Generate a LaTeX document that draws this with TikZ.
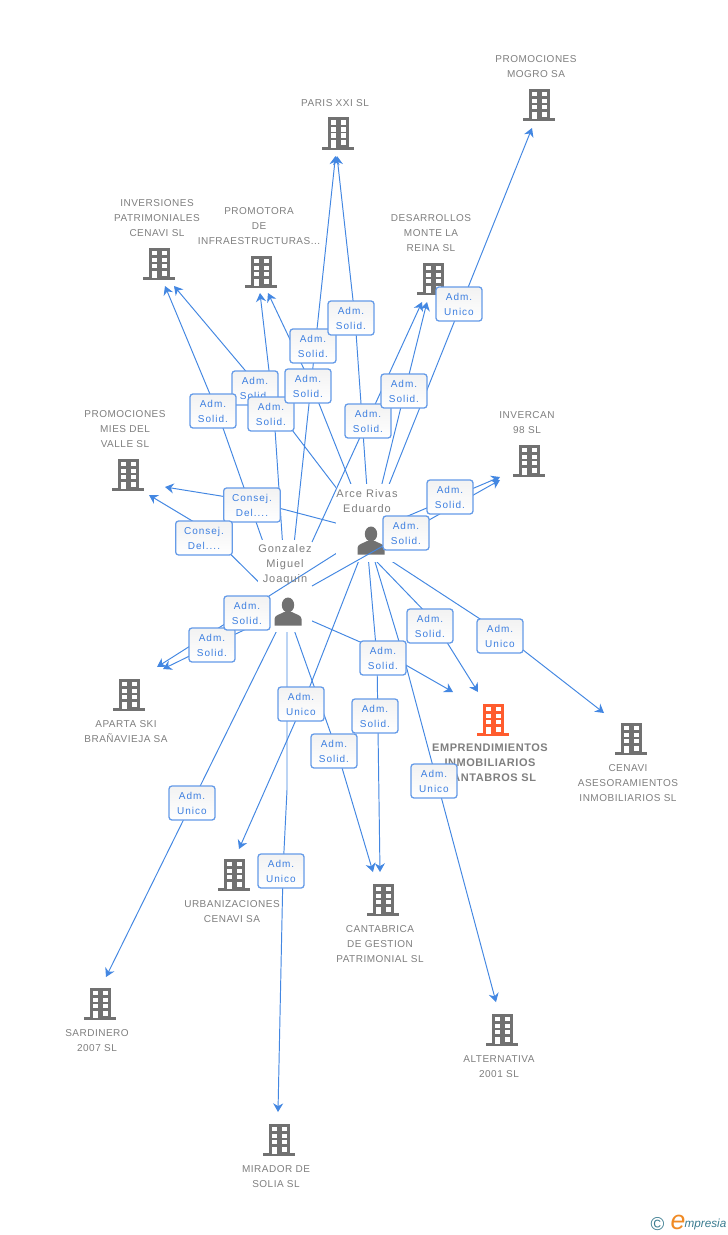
\documentclass[tikz,border=0pt]{standalone}
\usepackage{fontspec}
\usetikzlibrary{arrows.meta,calc,shapes.misc}
\setmainfont{Liberation Sans}
\newfontfamily\boxfont[LetterSpace=10]{Liberation Sans}
\newfontfamily\comfont[LetterSpace=5]{Liberation Sans}
\newfontfamily\perfont[LetterSpace=9]{Liberation Sans}
\newfontfamily\mainfont[LetterSpace=5,BoldFont={Liberation Sans Bold}]{Liberation Sans}
\definecolor{linkc}{HTML}{4387E2}
\definecolor{boxline}{HTML}{659BE8}
\definecolor{boxtext}{HTML}{3D7FE0}
\definecolor{txtc}{HTML}{7F7F7F}
\definecolor{bldc}{HTML}{717171}
\definecolor{hotc}{HTML}{FF5C2E}
\definecolor{tealc}{HTML}{3B7C90}
\definecolor{orc}{HTML}{F08A24}
\tikzset{
  conn/.style={draw=linkc,line width=0.72pt,-{Stealth[length=6.5pt,width=7.5pt]}},
  role/.style={draw=boxline,line width=0.95pt,rounded corners=2.2pt,top color=black!5,bottom color=white,
    minimum width=34.5pt,minimum height=25.5pt,inner sep=0pt,align=center,text=boxtext,
    font=\boxfont\fontsize{7.5}{11.25}\selectfont},
  wrole/.style={role,minimum width=42.5pt},
  comp/.style={inner sep=0pt,align=center,text=txtc,font=\comfont\fontsize{7.5}{11.25}\selectfont},
  hot/.style={inner sep=0pt,align=center,text=txtc,font=\mainfont\bfseries\fontsize{8.25}{11.25}\selectfont},
  pers/.style={inner sep=0pt,align=center,text=txtc,font=\perfont\fontsize{8.25}{11.25}\selectfont},
  cover/.style={fill=white,inner sep=0pt},
  pics/bld/.style={code={
    \fill[#1] (-16,14) rectangle (16,17);
    \fill[#1] (-10.5,-15.5) rectangle (10.5,15);
    \foreach \wx in {-7.5,2.5}{\foreach \wy in {-12.5,-5.5,0.5}{\fill[white] (\wx,\wy) rectangle ++(5,4.5);}}
    \fill[white] (-7.5,7.5) rectangle (-2.5,15);
    \fill[white] (2.5,7.5) rectangle (7.5,12.5);
  }},
  pics/man/.style={code={
    \fill[bldc] (0,-7) ellipse (6.2 and 7.5);
    \fill[bldc] (-13.5,13.5) -- (-13.5,7) .. controls (-13.5,3) and (-8,2.5) .. (-4,0) -- (4,0) .. controls (8,2.5) and (13.5,3) .. (13.5,7) -- (13.5,13.5) -- cycle;
  }}
}
\begin{document}
\begin{tikzpicture}[x=0.75pt,y=-0.75pt]
\useasboundingbox (0,0) rectangle (728,1235);
\fill[white] (0,0) rectangle (728,1235);
% hubs and free ends
\coordinate (arceh) at (370,532);
\coordinate (arcem) at (366,532);
\coordinate (arceo) at (350,534);
\coordinate (gonzh) at (287,610);
\coordinate (gonzb) at (312,586);
\coordinate (gonzd) at (312,542);
\coordinate (mirb) at (287,790);
% arrow ends
\coordinate (tparisa) at (335.5,156);
\coordinate (tparisb) at (337,156);
\coordinate (tmogro) at (532,128);
\coordinate (tinva) at (165,286);
\coordinate (tinvb) at (174,286);
\coordinate (tproa) at (260,293);
\coordinate (tprob) at (268,293);
\coordinate (tdesa) at (422,302);
\coordinate (tdesb) at (427,302);
\coordinate (tinca) at (500,477);
\coordinate (tincb) at (500,480);
\coordinate (tmiesa) at (165,487);
\coordinate (tmiesb) at (149,495);
\coordinate (tapaa) at (157,667);
\coordinate (tapab) at (163,669);
\coordinate (temp1) at (453,692);
\coordinate (temp2) at (478,692);
\coordinate (tcen) at (604,713);
\coordinate (turb) at (239,849);
\coordinate (tcana) at (373,872);
\coordinate (tcanb) at (380,872);
\coordinate (tsar) at (106,977);
\coordinate (talt) at (496,1002);
\coordinate (tmir) at (278,1112);
% box centres
\coordinate (A) at (313,346);
\coordinate (B) at (351,318);
\coordinate (C) at (255,388);
\coordinate (D) at (213,411);
\coordinate (E) at (271,414);
\coordinate (F) at (308,386);
\coordinate (G) at (368,421);
\coordinate (H) at (404,391);
\coordinate (I) at (459,304);
\coordinate (K1) at (252,505);
\coordinate (K2) at (204,538);
\coordinate (J) at (406,533);
\coordinate (K) at (450,497);
\coordinate (L) at (247,613);
\coordinate (M) at (212,645);
\coordinate (N) at (383,658);
\coordinate (O) at (430,626);
\coordinate (P) at (500,636);
\coordinate (Q) at (301,704);
\coordinate (R) at (375,716);
\coordinate (S) at (334,751);
\coordinate (T) at (434,781);
\coordinate (U) at (192,803);
\coordinate (V) at (281,871);
% connectors of Gonzalez
\draw[conn] (gonzh) -- (tparisa);
\draw[conn] (gonzh) -- ($(D)+(4,0)$) -- (tinva);
\draw[conn] (gonzh) -- ($(E)+(3,0)$) -- (tproa);
\draw[conn] (gonzh) -- ($(K2)+(0,-10)$) -- (tmiesb);
\draw[conn] (gonzh) -- (M) -- (tapab);
\draw[conn] (gonzh) -- ($(N)+(0,-6)$) -- (temp1);
\draw[conn] (gonzh) -- (tsar);
\draw[conn] (gonzh) -- (mirb) -- ($(V)+(2,0)$) -- (tmir);
\draw[conn] (gonzh) -- ($(S)+(3,0)$) -- (tcana);
% Gonzalez label area
\node[cover,minimum width=40.5pt,minimum height=69pt] (gonzbox) at (285,586) {};
% connectors of Arce
\draw[conn] (arceh) -- ($(B)+(4,0)$) -- (tparisb);
\draw[conn] (arceh) -- ($(C)+(5,0)$) -- (tinvb);
\draw[conn] (arceh) -- ($(F)+(4,0)$) -- (tprob);
\draw[conn] (arceh) -- (tdesb);
\draw[conn] (arceh) -- (tmogro);
\draw[conn] (arceh) -- (tinca);
\draw[conn] (arceh) -- ($(K1)+(0,-4)$) -- (tmiesa);
\draw[conn] (arceh) -- (tapaa);
\draw[conn] (arceh) -- ($(Q)+(2,0)$) -- (turb);
\draw[conn] (arcem) -- ($(N)+(-6,0)$) -- (tcanb);
\draw[conn] (arcem) -- ($(N)+(21,0)$) -- (talt);
\draw[conn] (arceo) -- ($(O)+(3,-6)$) -- (temp2);
\draw[conn] (arceo) -- ($(P)+(0,-4)$) -- (tcen);
% Arce label area
\node[cover,minimum width=51pt,minimum height=58.5pt] (arcebox) at (370,523) {};
\node[pers] (arcelab) at (367,501) {Arce Rivas\\Eduardo};
\node[pers] (gonzlab) at (285,565) {Gonzalez\\Miguel\\Joaquin};
\pic at (371,541) {man};
\pic at (288,612) {man};
\draw[conn] (gonzb) -- (tincb);
\draw[conn] (gonzd) -- (tdesa);
% buildings
\pic at (338,132.5) {bld=bldc};
\pic at (539,104) {bld=bldc};
\pic at (159,263) {bld=bldc};
\pic at (261,271) {bld=bldc};
\pic at (433,278) {bld=bldc};
\pic at (529,460) {bld=bldc};
\pic at (128,474) {bld=bldc};
\pic at (129,694) {bld=bldc};
\pic at (493,719) {bld=hotc};
\pic at (631,738) {bld=bldc};
\pic at (234,874) {bld=bldc};
\pic at (383,899) {bld=bldc};
\pic at (100,1003) {bld=bldc};
\pic at (502,1029) {bld=bldc};
\pic at (279,1139) {bld=bldc};
% labels
\node[comp] (lmogro) at (536,66.5) {PROMOCIONES\\MOGRO SA};
\node[comp] (lparis) at (335,103) {PARIS XXI SL};
\node[comp] (linv) at (157,218) {INVERSIONES\\PATRIMONIALES\\CENAVI SL};
\node[comp] (lpro) at (259,226) {PROMOTORA\\DE\\INFRAESTRUCTURAS...};
\node[comp] (ldes) at (431,233) {DESARROLLOS\\MONTE LA\\REINA SL};
\node[comp] (linc) at (527,422.5) {INVERCAN\\98 SL};
\node[comp] (lmies) at (125,429) {PROMOCIONES\\MIES DEL\\VALLE SL};
\node[comp] (lapa) at (126,731.5) {APARTA SKI\\BRAÑAVIEJA SA};
\node[hot] (lemp) at (490,763) {EMPRENDIMIENTOS\\INMOBILIARIOS\\CANTABROS SL};
\node[comp] (lcen) at (628,783) {CENAVI\\ASESORAMIENTOS\\INMOBILIARIOS SL};
\node[comp] (lurb) at (232,911.5) {URBANIZACIONES\\CENAVI SA};
\node[comp] (lcan) at (380,944) {CANTABRICA\\DE GESTION\\PATRIMONIAL SL};
\node[comp] (lsar) at (97,1040.5) {SARDINERO\\2007 SL};
\node[comp] (lalt) at (499,1066.5) {ALTERNATIVA\\2001 SL};
\node[comp] (lmir) at (276,1176.5) {MIRADOR DE\\SOLIA SL};
% role boxes
\node[role] (bA) at (A) {Adm.\\Solid.};
\node[role] (bB) at (B) {Adm.\\Solid.};
\node[role] (bC) at (C) {Adm.\\Solid.};
\node[role] (bD) at (D) {Adm.\\Solid.};
\node[role] (bE) at (E) {Adm.\\Solid.};
\node[role] (bF) at (F) {Adm.\\Solid.};
\node[role] (bG) at (G) {Adm.\\Solid.};
\node[role] (bH) at (H) {Adm.\\Solid.};
\node[role] (bI) at (I) {Adm.\\Unico};
\node[wrole] (bK1) at (K1) {Consej.\\Del....};
\node[wrole] (bK2) at (K2) {Consej.\\Del....};
\node[role] (bK) at (K) {Adm.\\Solid.};
\node[role] (bJ) at (J) {Adm.\\Solid.};
\node[role] (bM) at (M) {Adm.\\Solid.};
\node[role] (bL) at (L) {Adm.\\Solid.};
\node[role] (bN) at (N) {Adm.\\Solid.};
\node[role] (bO) at (O) {Adm.\\Solid.};
\node[role] (bP) at (P) {Adm.\\Unico};
\node[role] (bQ) at (Q) {Adm.\\Unico};
\node[role] (bR) at (R) {Adm.\\Solid.};
\node[role] (bS) at (S) {Adm.\\Solid.};
\node[role] (bT) at (T) {Adm.\\Unico};
\node[role] (bU) at (U) {Adm.\\Unico};
\node[role] (bV) at (V) {Adm.\\Unico};
% logo
\node[inner sep=0pt,text=tealc,font=\fontsize{14}{14}\selectfont] (copy) at (657.5,1224) {©};
\node[inner sep=0pt,text=orc,font=\itshape\fontsize{20}{20}\selectfont] (loge) at (678,1222) {e};
\node[inner sep=0pt,text=tealc,font=\itshape\fontsize{8.8}{9}\selectfont] (logm) at (705.5,1224.5) {mpresia};
\end{tikzpicture}
\end{document}
